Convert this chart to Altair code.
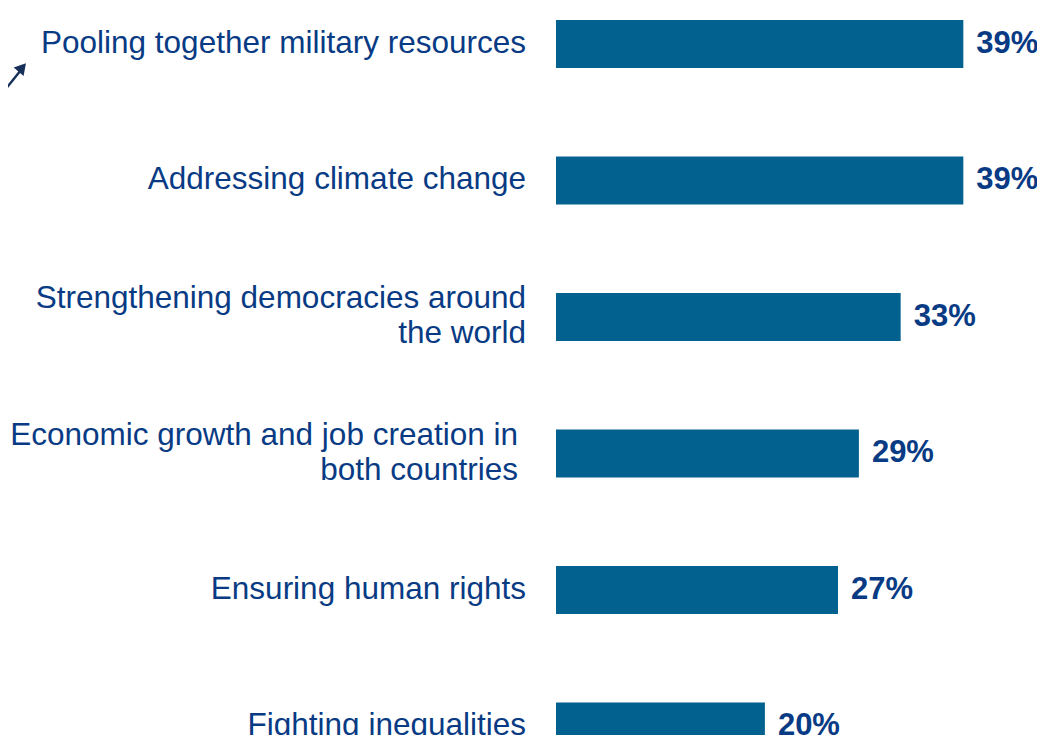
import altair as alt
import pandas as pd

categories = [
    "Pooling together military resources",
    "Addressing climate change",
    "Strengthening democracies around|the world",
    "Economic growth and job creation in|both countries",
    "Ensuring human rights",
    "Fighting inequalities",
]
values = [39, 39, 33, 29, 27, 20]
value_labels = ["39%", "39%", "33%", "29%", "27%", "20%"]

df = pd.DataFrame({
    "cat": categories,
    "val": values,
    "lab": value_labels,
    "row": list(range(len(categories))),
})

BAR = "#03618F"
TXT = "#083B84"
ARROW = "#17305A"
FONT = "Liberation Sans"

x_scale = alt.Scale(domain=[0, 45], nice=False, zero=True)
y_scale = alt.Scale(domain=[-0.2637, 5.011], reverse=True, nice=False, zero=False)

base = alt.Chart(df).transform_calculate(
    y0="datum.row - 0.1758", y1="datum.row + 0.1758"
)

bars = base.mark_bar(color=BAR).encode(
    x=alt.X("val:Q", scale=x_scale, axis=None),
    x2=alt.datum(0),
    y=alt.Y("y0:Q", scale=y_scale, axis=None),
    y2="y1:Q",
)

vals = base.mark_text(
    align="left", baseline="middle", dx=13, font=FONT, fontSize=31,
    fontWeight="bold", color=TXT
).encode(
    x=alt.X("val:Q", scale=x_scale),
    y=alt.Y("row:Q", scale=y_scale),
    text="lab:N",
)

econ = categories[3]


def label_layer(filt, xpos, dy):
    return base.transform_filter(filt).mark_text(
        align="right", baseline="middle", font=FONT, fontSize=31.5, color=TXT,
        lineBreak="|", lineHeight=35, dy=dy
    ).encode(
        x=alt.value(xpos),
        y=alt.Y("row:Q", scale=y_scale),
        text="cat:N",
    )


labels_single = label_layer(
    f"datum.cat != '{categories[2]}' && datum.cat != '{categories[3]}'", -30, 0
)
labels_strength = label_layer(f"datum.cat == '{categories[2]}'", -30, -17.5)
labels_econ = label_layer(f"datum.cat == '{econ}'", -38, -17.5)

one = alt.Data(values=[{"a": 1}])
arrow_line = alt.Chart(one).mark_rule(color=ARROW, strokeWidth=2.5).encode(
    x=alt.value(-560), y=alt.value(93), x2=alt.value(-535), y2=alt.value(62)
)
arrow_head = alt.Chart(one).mark_point(
    shape="triangle-up", filled=True, color=ARROW, size=170, angle=40.5, opacity=1
).encode(x=alt.value(-533.7), y=alt.value(59.5))

chart = alt.layer(
    bars, vals, labels_single, labels_strength, labels_econ, arrow_line, arrow_head
).properties(
    width=470, height=720,
    autosize=alt.AutoSizeParams(type="none"),
    padding={"left": 548, "top": 0, "right": 11, "bottom": 7},
).configure(background="white").configure_view(stroke=None, strokeWidth=0)

chart.save("out.html", embed_options={"renderer": "svg", "actions": False})
